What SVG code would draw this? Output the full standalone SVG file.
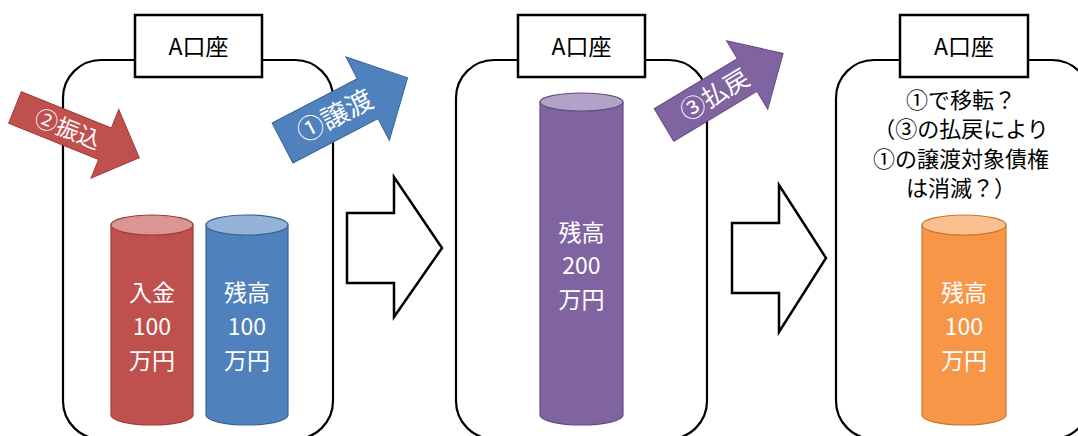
<svg xmlns="http://www.w3.org/2000/svg" width="1078" height="436" viewBox="0 0 1078 436">
<defs>
<style>
.panel{fill:#fff;stroke:#000;stroke-width:2.2}
.label{fill:#fff;stroke:#000;stroke-width:2.5}
.lt{font-family:"Noto Sans CJK JP","Noto Sans",sans-serif;font-size:23px;fill:#000;text-anchor:middle}
.ct{font-family:"Noto Sans CJK JP","Noto Sans",sans-serif;font-size:23px;fill:#fff;text-anchor:middle}
.nt{font-family:"Noto Sans CJK JP","Noto Sans",sans-serif;font-size:22px;fill:#000;text-anchor:middle}
.at{font-family:"Noto Sans CJK JP","Noto Sans",sans-serif;fill:#fff;text-anchor:middle}
.big{fill:#fff;stroke:#000;stroke-width:2.5;stroke-linejoin:miter}
</style>
</defs>
<rect width="1078" height="436" fill="#fff"/>

<g id="panel1">
<rect class="panel" x="63" y="60" width="270" height="379" rx="38"/>
<rect class="label" x="135" y="15" width="127" height="62"/>
<text class="lt" x="198.5" y="55">A口座</text>
</g>
<g id="panel2">
<rect class="panel" x="456" y="60" width="251" height="379" rx="38"/>
<rect class="label" x="518" y="15" width="127" height="62"/>
<text class="lt" x="581.5" y="55">A口座</text>
</g>
<g id="panel3">
<rect class="panel" x="836" y="60" width="254" height="379" rx="38"/>
<rect class="label" x="900" y="15" width="128" height="62"/>
<text class="lt" x="964" y="55">A口座</text>
<text class="nt" x="961" y="108">①で移転？</text>
<text class="nt" x="961" y="137">（③の払戻により</text>
<text class="nt" x="961" y="167">①の譲渡対象債権</text>
<text class="nt" x="961" y="196">は消滅？）</text>
</g>

<g id="cyl-red">
<path d="M111,225 L111,415 A41,10 0 0 0 193,415 L193,225 Z" fill="#C0504D" stroke="#A03C3A" stroke-width="1.2"/>
<ellipse cx="152" cy="225" rx="41" ry="10" fill="#D99694" stroke="#A03C3A" stroke-width="1.2"/>
<text class="ct" x="152" y="301">入金</text>
<text class="ct" x="152" y="335" font-size="24">100</text>
<text class="ct" x="152" y="369">万円</text>
</g>
<g id="cyl-blue">
<path d="M206,225 L206,415 A41,10 0 0 0 288,415 L288,225 Z" fill="#4F81BD" stroke="#3A6596" stroke-width="1.2"/>
<ellipse cx="247" cy="225" rx="41" ry="10" fill="#95B3D7" stroke="#3A6596" stroke-width="1.2"/>
<text class="ct" x="247" y="301">残高</text>
<text class="ct" x="247" y="335" font-size="24">100</text>
<text class="ct" x="247" y="369">万円</text>
</g>
<g id="cyl-purple">
<path d="M540,102 L540,415 A41.5,10 0 0 0 623,415 L623,102 Z" fill="#8064A2" stroke="#644B82" stroke-width="1.2"/>
<ellipse cx="581.5" cy="102" rx="41.5" ry="9" fill="#B3A2C7" stroke="#644B82" stroke-width="1.2"/>
<text class="ct" x="581.5" y="241">残高</text>
<text class="ct" x="581.5" y="274" font-size="24">200</text>
<text class="ct" x="581.5" y="308">万円</text>
</g>
<g id="cyl-orange">
<path d="M922,225 L922,415 A42,10 0 0 0 1006,415 L1006,225 Z" fill="#F79646" stroke="#C9772F" stroke-width="1.2"/>
<ellipse cx="964" cy="225" rx="42" ry="10" fill="#FAC090" stroke="#C9772F" stroke-width="1.2"/>
<text class="ct" x="964" y="301">残高</text>
<text class="ct" x="964" y="335" font-size="24">100</text>
<text class="ct" x="964" y="369">万円</text>
</g>

<g id="arrow-furikomi" transform="translate(15,107.5) rotate(22)">
<path d="M0,-17 L97,-17 L97,-37 L134,0 L97,37 L97,17 L0,17 Z" fill="#C0504D" stroke="#A03C3A" stroke-width="1"/>
<text class="at" x="57" y="8.5" font-size="23">②振込</text>
</g>
<g id="arrow-jouto" transform="translate(282.5,143) rotate(-27.5)">
<path d="M0,-22.5 L96,-22.5 L96,-47 L141,0 L96,47 L96,22.5 L0,22.5 Z" fill="#4F81BD" stroke="#3A6596" stroke-width="1"/>
<text class="at" x="59" y="9.5" font-size="27">①譲渡</text>
</g>
<g id="arrow-haraimodoshi" transform="translate(664,125) rotate(-31)">
<path d="M0,-19 L97,-19 L97,-40 L139,0 L97,40 L97,19 L0,19 Z" fill="#8064A2" stroke="#644B82" stroke-width="1"/>
<text class="at" x="59" y="9" font-size="25">③払戻</text>
</g>

<g id="connectors">
<path class="big" d="M347,213 L394,213 L394,177 L442,248 L394,317 L394,283 L347,283 Z"/>
<path class="big" d="M732,223 L779,223 L779,185 L826,258 L779,332 L779,293 L732,293 Z"/>
</g>
</svg>
